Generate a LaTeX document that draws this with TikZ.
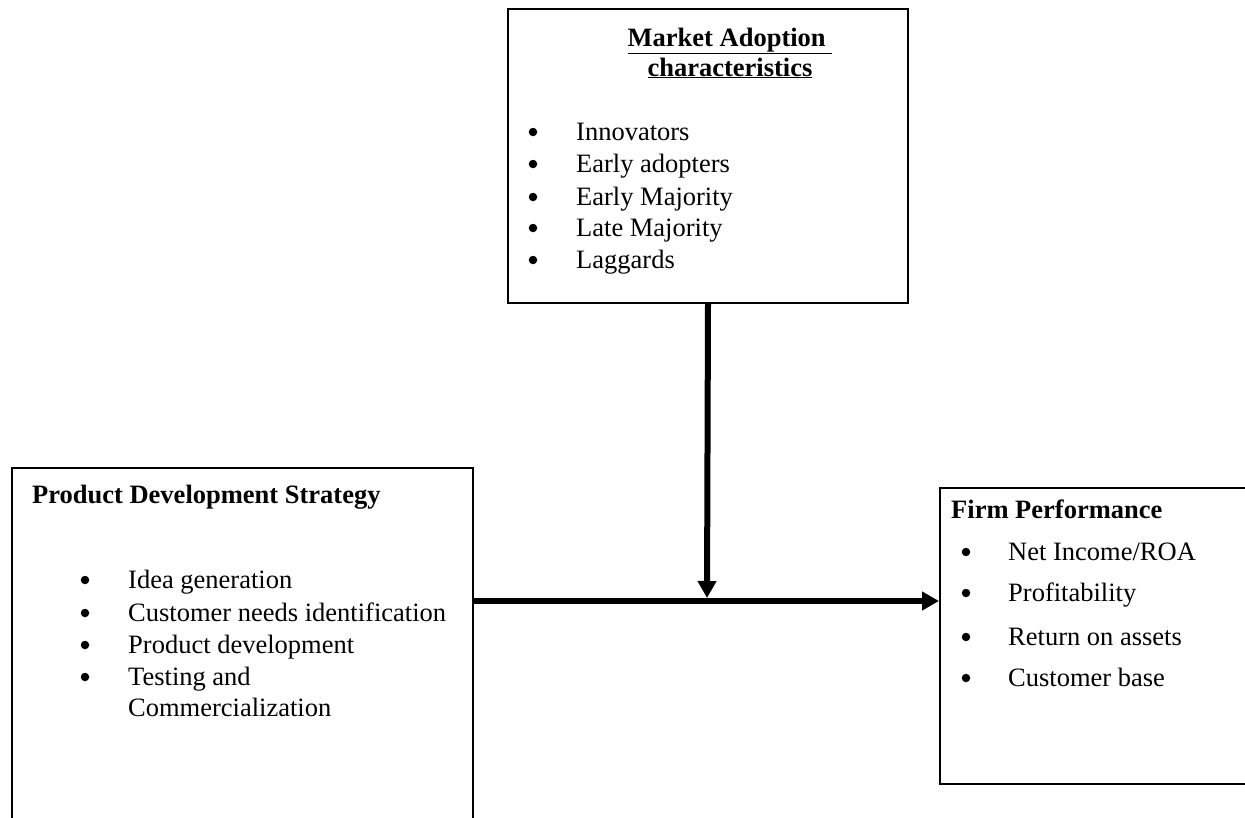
\documentclass[tikz,border=0pt]{standalone}
\usepackage{fontspec}
\setmainfont{Liberation Serif}
\usetikzlibrary{arrows.meta}
\begin{document}
\begin{tikzpicture}[x=1pt,y=-1pt,
  boxstyle/.style={draw=black,line width=2pt,inner sep=0pt,anchor=north west},
  txt/.style={inner sep=0pt,anchor=base west,font=\fontsize{26.5}{32}\selectfont},
  hd/.style={inner sep=0pt,font=\fontsize{26.5}{32}\selectfont\bfseries},
  bul/.style={circle,fill=black,inner sep=0pt,minimum size=8.5pt},
  conn/.style={line width=6pt,-{Triangle[length=17pt,width=18pt]}}]
\useasboundingbox (0,0) rectangle (1245,817);
\clip (0,0) rectangle (1245,817);
\fill[white] (0,0) rectangle (1245,817);

% boxes
\node[boxstyle,minimum width=400pt,minimum height=294pt] (top) at (507,8) {};
\node[boxstyle,minimum width=461pt,minimum height=380pt] (left) at (11,467) {};
\node[boxstyle,minimum width=330pt,minimum height=296pt] (right) at (939,487) {};

% top box text
\node[hd,anchor=base] (t1) at (730,46) {\underline{Market Adoption\ }};
\node[hd,anchor=base] (t2) at (730,76) {\underline{characteristics}};
\foreach \y/\t [count=\i] in {140/Innovators,172/Early adopters,205/Early Majority,236/Late Majority,268/Laggards}{
  \node[bul] (tb\i) at (533,\y-8) {};
  \node[txt] (ti\i) at (576,\y) {\t};
}

% left box text
\node[hd,anchor=base west] (l1) at (32,503) {Product Development Strategy};
\foreach \y/\t [count=\i] in {588/Idea generation,621/Customer needs identification,653/Product development,685/Testing and}{
  \node[bul] (lb\i) at (85,\y-8) {};
  \node[txt] (li\i) at (128,\y) {\t};
}
\node[txt] (li5) at (128,716) {Commercialization};

% right box text
\node[hd,anchor=base west] (r1) at (951,518) {Firm Performance};
\foreach \y/\t [count=\i] in {560/{Net Income/ROA},601/Profitability,645/Return on assets,686/Customer base}{
  \node[bul] (rb\i) at (966,\y-8) {};
  \node[txt] (ri\i) at (1008,\y) {\t};
}

% connectors
\coordinate (j) at (707,601);
\draw[conn] (left.east |- j) -- (right.west |- j);
\draw[conn] (top.south) -- ([yshift=3pt]j);
\end{tikzpicture}
\end{document}
